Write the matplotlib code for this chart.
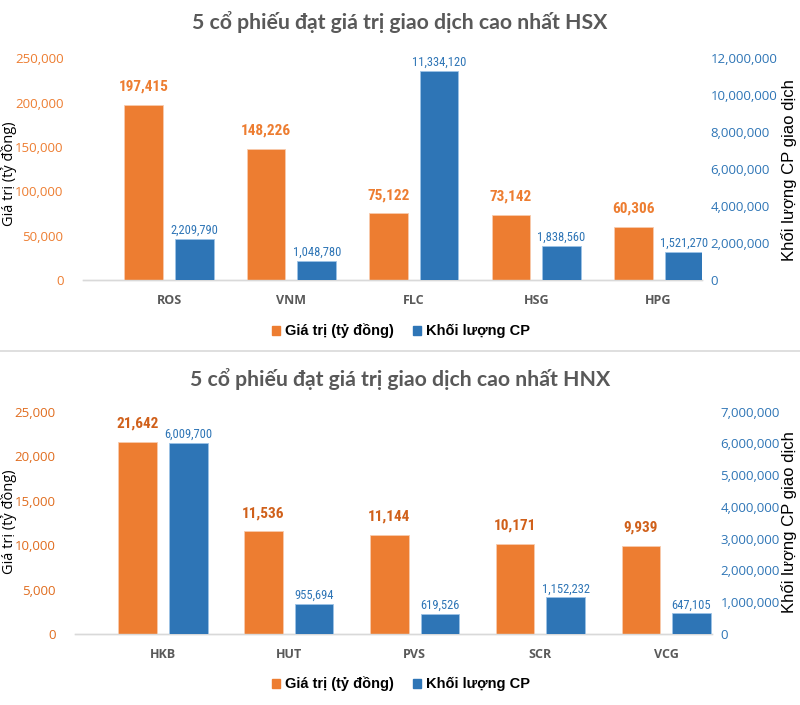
import matplotlib
matplotlib.use("Agg")
import matplotlib.pyplot as plt
from matplotlib import font_manager
from matplotlib.ticker import FuncFormatter
from matplotlib.patches import Rectangle

# ---------------- data ----------------
hsx_codes = ["ROS", "VNM", "FLC", "HSG", "HPG"]
hsx_value = [197415, 148226, 75122, 73142, 60306]
hsx_volume = [2209790, 1048780, 11334120, 1838560, 1521270]

hnx_codes = ["HKB", "HUT", "PVS", "SCR", "VCG"]
hnx_value = [21642, 11536, 11144, 10171, 9939]
hnx_volume = [6009700, 955694, 619526, 1152232, 647105]

title_hsx = "5 cổ phiếu đạt giá trị giao dịch cao nhất HSX"
title_hnx = "5 cổ phiếu đạt giá trị giao dịch cao nhất HNX"
left_label = "Giá trị (tỷ đồng)"
right_label = "Khối lượng CP giao dịch"
legend_labels = ["Giá trị (tỷ đồng)", "Khối lượng CP"]

# ---------------- fonts ----------------
names = {f.name for f in font_manager.fontManager.ttflist}
if "Liberation Sans Narrow" in names:
    narrow = "Liberation Sans Narrow"
elif "Roboto Condensed" in names:
    narrow = "Roboto Condensed"
else:
    narrow = "DejaVu Sans"
tick_font = "Open Sans"
title_font = "Lato"
arial = "Liberation Sans"
plt.rcParams["font.family"] = [tick_font, "DejaVu Sans"]

ORANGE = "#ED7D31"
BLUE = "#2E75B6"
GRAY = "#595959"

W, H = 800, 705
fig = plt.figure(figsize=(W / 100, H / 100), dpi=100)


def px_box(x0, x1, ytop, ybot):
    return [x0 / W, 1 - ybot / H, (x1 - x0) / W, (ybot - ytop) / H]


def panel(box, codes, values, volumes, vmax, vstep, rmax, rstep, center0, spacing,
          title, title_y, left_tick_color, val_color, leg_y, ylab_y, rlab_y):
    ax = fig.add_axes(box)
    ax2 = ax.twinx()
    n = len(codes)
    x = list(range(n))
    x0_px = box[0] * W
    x1_px = (box[0] + box[2]) * W
    ax.set_xlim((x0_px - center0) / spacing, (x1_px - center0) / spacing)
    bw = 38.5 / spacing
    off = 25.3 / spacing
    ax.bar([i - off for i in x], values, width=bw, color=ORANGE, edgecolor="#F8CBAD",
           linewidth=0.6, zorder=3)
    ax2.bar([i + off for i in x], volumes, width=bw, color=BLUE, edgecolor="#9DC3E6",
            linewidth=0.6, zorder=3)
    ax.set_ylim(0, vmax)
    ax2.set_ylim(0, rmax)
    ax.set_yticks(range(0, vmax + 1, vstep))
    ax2.set_yticks(range(0, rmax + 1, rstep))
    fmt = FuncFormatter(lambda v, p: f"{int(v):,}")
    ax.yaxis.set_major_formatter(fmt)
    ax2.yaxis.set_major_formatter(fmt)
    ax.set_xticks(x)
    ax.set_xticklabels(codes, fontweight="bold", fontsize=9, color=GRAY)
    ax.tick_params(axis="x", length=0, pad=10)
    ax.tick_params(axis="y", length=0, pad=14, labelsize=9.5, labelcolor=left_tick_color)
    ax2.tick_params(axis="y", length=0, pad=6, labelsize=9.5, labelcolor=BLUE)
    for a in (ax, ax2):
        for s in ("top", "left", "right"):
            a.spines[s].set_visible(False)
        a.spines["bottom"].set_color("#D9D9D9")
        a.spines["bottom"].set_linewidth(1.0)
        a.patch.set_visible(False)
    # data labels
    for i, v in enumerate(values):
        ax.annotate(f"{v:,}", (i - off, v), xytext=(0, 8), textcoords="offset points",
                    ha="center", va="bottom", fontsize=11, fontweight="bold",
                    color=val_color, fontfamily=[narrow, "DejaVu Sans"])
    for i, v in enumerate(volumes):
        ax2.annotate(f"{v:,}", (i + off, v), xytext=(0, 1.5), textcoords="offset points",
                     ha="center", va="bottom", fontsize=9, color=BLUE,
                     fontfamily=[narrow, "DejaVu Sans"])
    fig.text(0.5, 1 - title_y / H, title, ha="center", va="center", fontsize=15.3,
             fontweight="bold", color=GRAY, fontfamily=title_font)
    fig.text(9 / W, 1 - ylab_y / H, left_label, rotation=90, ha="center", va="center",
             fontsize=10.5, color="#000000")
    fig.text(789 / W, 1 - rlab_y / H, right_label, rotation=90, ha="center", va="center",
             fontsize=12, color="#000000", fontfamily=arial)
    handles = [Rectangle((0, 0), 1, 1, color=ORANGE), Rectangle((0, 0), 1, 1, color=BLUE)]
    fig.legend(handles, legend_labels, loc="center", bbox_to_anchor=(401 / W, 1 - leg_y / H),
               ncol=2, frameon=False, handlelength=0.55, handleheight=0.55,
               handletextpad=0.35, columnspacing=1.3,
               prop={"family": arial, "weight": "bold", "size": 10.5})
    return ax, ax2


panel(px_box(83, 702, 58.3, 280), hsx_codes, hsx_value, hsx_volume,
      250000, 50000, 12000000, 2000000, 169, 122.4,
      title_hsx, 22, ORANGE, ORANGE, 331, 174, 170)

panel(px_box(75, 712, 411.7, 634), hnx_codes, hnx_value, hnx_volume,
      25000, 5000, 7000000, 1000000, 163, 125.8,
      title_hnx, 379, "#E06C1E", "#D0601A", 684, 522, 522)

fig.add_artist(plt.Line2D([0, 1], [1 - 351 / H, 1 - 351 / H], color="#D9D9D9",
                          linewidth=1.2, transform=fig.transFigure))

fig.savefig("out.png", dpi=100, facecolor="white")
